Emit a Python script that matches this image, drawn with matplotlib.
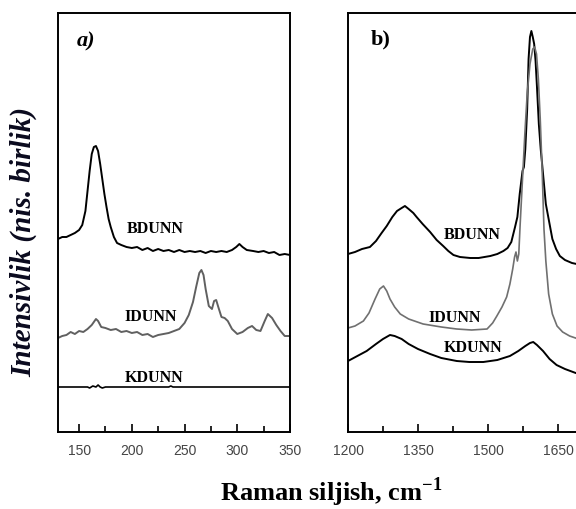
import matplotlib
matplotlib.use("Agg")
import matplotlib.pyplot as plt
from matplotlib.ticker import MultipleLocator

plt.rcParams["mathtext.fontset"] = "custom"
plt.rcParams["mathtext.rm"] = "Liberation Serif:bold"
plt.rcParams["mathtext.bf"] = "Liberation Serif:bold"

# panel a) low-frequency region
xa_b = [130, 134, 138, 142, 146, 150, 153, 156, 158, 160, 162, 164, 166, 168, 170, 172, 174, 176, 178, 180,
        183, 186, 190, 195, 200, 205, 210, 215, 220, 225, 230, 235, 240, 245, 250, 255, 260, 265, 270, 275,
        280, 285, 290, 295, 299, 302, 305, 309, 315, 320, 325, 330, 335, 340, 345, 350]
ya_b = [193, 195, 195, 197, 199, 202, 207, 221, 241, 261, 278, 285, 286, 281, 268, 253, 238, 225, 213, 205,
        195, 189, 187, 185, 184, 185, 182, 184, 181, 183, 181, 182, 180, 182, 180, 181, 180, 181, 179, 181,
        180, 181, 180, 182, 185, 188, 185, 182, 181, 180, 181, 179, 180, 177, 178, 177]

xa_i = [130, 134, 138, 142, 146, 150, 154, 158, 162, 166, 168, 171, 175, 180, 185, 190, 195, 200, 205, 210,
        215, 220, 225, 230, 235, 240, 245, 250, 254, 258, 261, 264, 266, 268, 270, 273, 276, 278, 280, 282,
        285, 288, 291, 295, 300, 305, 310, 314, 318, 322, 326, 329, 333, 337, 341, 345, 350]
ya_i = [94, 96, 97, 100, 98, 101, 100, 103, 107, 113, 111, 105, 104, 102, 103, 100, 101, 99, 100, 97,
        98, 95, 97, 98, 99, 101, 103, 109, 117, 130, 145, 159, 162, 157, 143, 126, 123, 131, 132, 125,
        115, 114, 111, 103, 98, 100, 104, 106, 102, 101, 111, 118, 114, 107, 101, 96, 96]

xa_k = [130, 158, 160, 163, 166, 168, 170, 172, 175, 235, 237, 239, 350]
ya_k = [45, 45, 44, 46, 45, 47, 45, 44, 45, 45, 46, 45, 45]

# panel b) D and G band region
xb_b = [1200, 1215, 1230, 1247, 1260, 1272, 1283, 1295, 1305, 1315, 1322, 1330, 1340, 1347, 1360, 1376,
        1390, 1404, 1415, 1426, 1440, 1462, 1480, 1505, 1520, 1533, 1542, 1550, 1558, 1563, 1568, 1574,
        1577, 1580, 1584, 1587, 1590, 1593, 1596, 1599, 1602, 1605, 1609, 1613, 1618, 1624, 1630, 1638,
        1646, 1654, 1665, 1680, 1700]
yb_b = [178, 180, 183, 185, 191, 199, 206, 215, 221, 224, 226, 223, 219, 215, 208, 200,
        192, 186, 181, 177, 175, 174, 174, 176, 178, 181, 184, 190, 205, 215, 238, 261,
        265, 283, 323, 373, 395, 401, 395, 388, 371, 345, 308, 283, 258, 228, 213, 193,
        183, 176, 172, 169, 167]

xb_i = [1200, 1215, 1233, 1245, 1258, 1268, 1276, 1283, 1290, 1300, 1312, 1330, 1361, 1400, 1433, 1465,
        1498, 1510, 1519, 1530, 1540, 1547, 1553, 1557, 1560, 1563, 1566, 1569, 1574, 1579, 1584, 1590,
        1596, 1600, 1604, 1608, 1612, 1616, 1620, 1624, 1630, 1638, 1648, 1660, 1675, 1700]
yb_i = [104, 106, 111, 119, 133, 143, 146, 141, 133, 125, 118, 113, 108, 105, 103, 102,
        103, 109, 116, 125, 135, 148, 163, 175, 180, 171, 178, 208, 253, 298, 338, 368,
        383, 385, 378, 353, 313, 263, 203, 171, 138, 118, 106, 100, 96, 92]

xb_k = [1200, 1220, 1240, 1260, 1275, 1290, 1300, 1315, 1330, 1350, 1376, 1400, 1433, 1460, 1490, 1520,
        1547, 1565, 1580, 1590, 1597, 1605, 1618, 1632, 1647, 1665, 1688, 1700]
yb_k = [71, 76, 81, 88, 93, 97, 96, 93, 88, 83, 78, 74, 71, 70, 70, 72,
        76, 81, 86, 89, 90, 87, 81, 73, 67, 63, 59, 58]

serif = "Liberation Serif"
fig = plt.figure(figsize=(5.76, 5.10), dpi=100)
ax1 = fig.add_axes([58/576, 77/510, 232/576, 419/510])
ax2 = fig.add_axes([348/576, 77/510, 233.3/576, 419/510])

ax1.plot(xa_b, ya_b, color="black", lw=1.4)
ax1.plot(xa_i, ya_i, color="#606060", lw=1.4)
ax1.plot(xa_k, ya_k, color="black", lw=1.2)
ax2.plot(xb_b, yb_b, color="black", lw=1.4)
ax2.plot(xb_i, yb_i, color="#707070", lw=1.2)
ax2.plot(xb_k, yb_k, color="black", lw=1.4)

ax1.set_xlim(130, 350)
ax2.set_xlim(1200, 1700)
ax1.xaxis.set_major_locator(MultipleLocator(50))
ax1.xaxis.set_minor_locator(MultipleLocator(25))
ax2.xaxis.set_major_locator(MultipleLocator(150))
ax2.xaxis.set_minor_locator(MultipleLocator(75))

for ax in (ax1, ax2):
    ax.set_ylim(0, 419)
    ax.set_yticks([])
    ax.tick_params(axis="x", which="major", direction="in", length=6, width=1.2,
                   labelsize=10, labelcolor="#444444", pad=8)
    ax.tick_params(axis="x", which="minor", direction="in", length=4, width=1.2)
    for lbl in ax.get_xticklabels():
        lbl.set_fontfamily("Liberation Sans")
    for s in ax.spines.values():
        s.set_linewidth(1.4)

lab = dict(fontfamily=serif, fontweight="bold", fontsize=11.5, ha="center", va="center")
ax1.text(222, 204, "BDUNN", **lab)
ax1.text(218, 116, "IDUNN", **lab)
ax1.text(221, 55, "KDUNN", **lab)
ax2.text(1466, 198, "BDUNN", **lab)
ax2.text(1429, 115, "IDUNN", **lab)
ax2.text(1468, 85, "KDUNN", **lab)

ax1.text(0.12, 0.935, "a)", transform=ax1.transAxes, fontfamily=serif, fontweight="bold",
         fontstyle="italic", fontsize=16, ha="center", va="center")
ax2.text(0.14, 0.94, "b)", transform=ax2.transAxes, fontfamily=serif, fontweight="bold",
         fontsize=16, ha="center", va="center")

fig.text(24/576, 1 - 242/510, "Intensivlik (nis. birlik)", rotation=90, fontfamily=serif,
         fontweight="bold", fontstyle="italic", fontsize=21, ha="center", va="center", color="#0a0a1e")
fig.text(331/576, 1 - 492/510, "Raman siljish, cm$^{-1}$", fontfamily=serif,
         fontweight="bold", fontsize=19, ha="center", va="center")

fig.savefig("out.png", dpi=100)
